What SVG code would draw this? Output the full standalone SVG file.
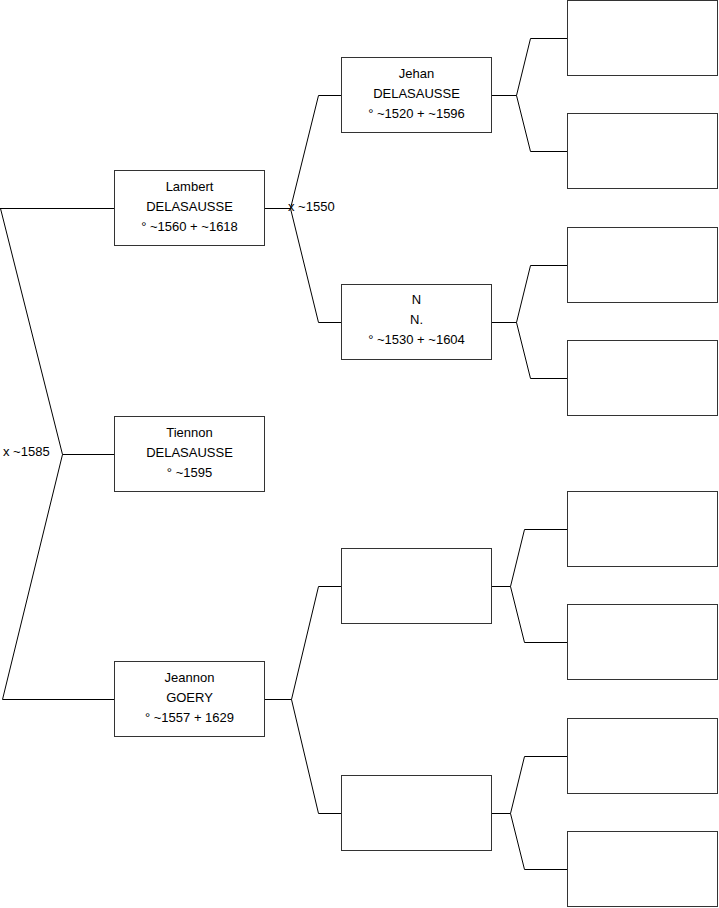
<svg xmlns="http://www.w3.org/2000/svg" width="719" height="908" viewBox="0 0 719 908">
<style>
.box{fill:#fff;stroke:#333;stroke-width:1}
.ln{fill:none;stroke:#000;stroke-width:1}
text{font-family:"Liberation Sans",Arial,sans-serif;font-size:13px;fill:#000}
.c{text-anchor:middle}
</style>
<rect x="0" y="0" width="719" height="908" fill="#fff"/>
<g id="connectors">
<polyline class="ln" points="0.5,208.5 62.5,454.5 2.5,699.5 114,699.5"/>
<line class="ln" x1="0" y1="208.5" x2="114" y2="208.5"/>
<line class="ln" x1="62.5" y1="454.5" x2="114" y2="454.5"/>
<line class="ln" x1="265" y1="208.5" x2="290.5" y2="208.5"/>
<polyline class="ln" points="341,95.5 318.5,95.5 290.5,208.5 318.5,322.5 341,322.5"/>
<line class="ln" x1="265" y1="699.5" x2="291.5" y2="699.5"/>
<polyline class="ln" points="341,586.5 318.5,586.5 291.5,699.5 318.5,813.5 341,813.5"/>
<line class="ln" x1="492" y1="95.5" x2="516.5" y2="95.5"/>
<polyline class="ln" points="567,38.5 530.5,38.5 516.5,95.5 530.5,151.5 567,151.5"/>
<line class="ln" x1="492" y1="322.5" x2="516.5" y2="322.5"/>
<polyline class="ln" points="567,265.5 530.5,265.5 516.5,322.5 530.5,378.5 567,378.5"/>
<line class="ln" x1="492" y1="586.5" x2="510.5" y2="586.5"/>
<polyline class="ln" points="567,529.5 524.5,529.5 510.5,586.5 524.5,642.5 567,642.5"/>
<line class="ln" x1="492" y1="813.5" x2="510.5" y2="813.5"/>
<polyline class="ln" points="567,756.5 524.5,756.5 510.5,813.5 524.5,869.5 567,869.5"/>
<text x="288" y="211">x ~1550</text>
<text x="3" y="456">x ~1585</text>
</g>
<g id="lambert">
<rect class="box" x="114.5" y="170.5" width="150" height="75"/>
<text class="c" x="189.5" y="190.5">Lambert</text>
<text class="c" x="189.5" y="210.5">DELASAUSSE</text>
<text class="c" x="189.5" y="230.5">° ~1560 + ~1618</text>
</g>
<g id="tiennon">
<rect class="box" x="114.5" y="416.5" width="150" height="75"/>
<text class="c" x="189.5" y="436.5">Tiennon</text>
<text class="c" x="189.5" y="456.5">DELASAUSSE</text>
<text class="c" x="189.5" y="476.5">° ~1595</text>
</g>
<g id="jeannon">
<rect class="box" x="114.5" y="661.5" width="150" height="75"/>
<text class="c" x="189.5" y="681.5">Jeannon</text>
<text class="c" x="189.5" y="701.5">GOERY</text>
<text class="c" x="189.5" y="721.5">° ~1557 + 1629</text>
</g>
<g id="jehan">
<rect class="box" x="341.5" y="57.5" width="150" height="75"/>
<text class="c" x="416.5" y="77.5">Jehan</text>
<text class="c" x="416.5" y="97.5">DELASAUSSE</text>
<text class="c" x="416.5" y="117.5">° ~1520 + ~1596</text>
</g>
<g id="n">
<rect class="box" x="341.5" y="284.5" width="150" height="75"/>
<text class="c" x="416.5" y="303.5">N</text>
<text class="c" x="416.5" y="323.5">N.</text>
<text class="c" x="416.5" y="343.5">° ~1530 + ~1604</text>
</g>
<g id="p3"><rect class="box" x="341.5" y="548.5" width="150" height="75"/></g>
<g id="p4"><rect class="box" x="341.5" y="775.5" width="150" height="75"/></g>
<g id="g1"><rect class="box" x="567.5" y="0.5" width="150" height="75"/></g>
<g id="g2"><rect class="box" x="567.5" y="113.5" width="150" height="75"/></g>
<g id="g3"><rect class="box" x="567.5" y="227.5" width="150" height="75"/></g>
<g id="g4"><rect class="box" x="567.5" y="340.5" width="150" height="75"/></g>
<g id="g5"><rect class="box" x="567.5" y="491.5" width="150" height="75"/></g>
<g id="g6"><rect class="box" x="567.5" y="604.5" width="150" height="75"/></g>
<g id="g7"><rect class="box" x="567.5" y="718.5" width="150" height="75"/></g>
<g id="g8"><rect class="box" x="567.5" y="831.5" width="150" height="75"/></g>
</svg>
